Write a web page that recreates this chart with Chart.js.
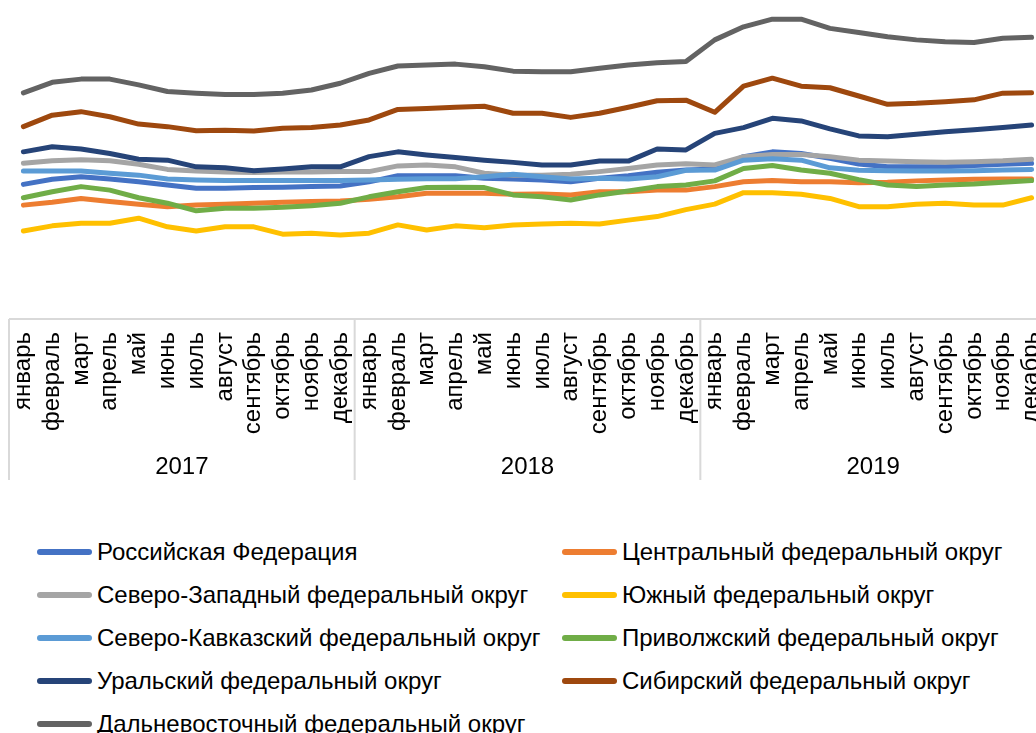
<!DOCTYPE html>
<html lang="ru">
<head>
<meta charset="utf-8">
<title>Федеральные округа 2017–2019</title>
<script src="https://cdn.jsdelivr.net/npm/chart.js@4/dist/chart.umd.min.js"></script>
<style>
  html, body { margin: 0; padding: 0; background: #fff; overflow: hidden; }
  body { width: 1036px; height: 733px; position: relative; }
  #chart { position: absolute; left: 0; top: 0; }
  #legend {
    position: absolute; left: 37px; top: 530px;
    display: grid; grid-template-columns: 525px auto; grid-auto-rows: 43px;
    font: 24px "Liberation Sans", Arial, sans-serif; color: #000;
  }
  #legend .item { display: flex; align-items: center; white-space: nowrap; }
  #legend .swatch { width: 55px; height: 6px; border-radius: 3px; margin-right: 5px; }
</style>
</head>
<body>
<canvas id="chart" width="1046" height="482"></canvas>
<div id="legend"></div>
<script>
const $ = (s) => document.querySelector(s);
const FONT = '"Liberation Sans", Arial, sans-serif';

// categories
const months = ["январь", "февраль", "март", "апрель", "май", "июнь", "июль", "август", "сентябрь", "октябрь", "ноябрь", "декабрь"];
const years = ["2017", "2018", "2019"];

// series (36 months each)
const rf = [42.2, 43.8, 44.6, 43.9, 43.0, 42.0, 41.0, 41.0, 41.2, 41.3, 41.5, 41.7, 43.0, 44.9, 44.9, 44.9, 44.1, 43.9, 43.6, 43.0, 44.1, 44.9, 46.0, 46.7, 47.0, 50.9, 52.4, 51.9, 50.4, 48.6, 47.7, 47.7, 47.7, 48.1, 48.5, 48.8];
const central = [35.7, 36.6, 37.8, 36.8, 36.0, 35.2, 35.7, 36.0, 36.3, 36.6, 36.8, 37.0, 37.5, 38.3, 39.4, 39.4, 39.4, 39.1, 39.2, 38.9, 39.9, 39.9, 40.4, 40.4, 41.5, 43.0, 43.4, 43.0, 43.0, 42.7, 42.9, 43.3, 43.6, 43.8, 43.9, 43.9];
const northWest = [48.8, 49.6, 49.9, 49.6, 48.5, 46.9, 46.4, 46.1, 45.9, 46.1, 46.1, 46.2, 46.2, 48.0, 48.3, 47.7, 45.7, 45.1, 45.1, 45.4, 46.2, 47.2, 48.3, 48.7, 48.3, 50.9, 51.6, 51.6, 50.9, 49.8, 49.5, 49.3, 49.1, 49.3, 49.6, 50.1];
const south = [27.6, 29.2, 30.0, 30.0, 31.6, 28.9, 27.6, 28.9, 28.9, 26.6, 26.9, 26.3, 26.9, 29.5, 27.9, 29.2, 28.6, 29.5, 29.8, 30.0, 29.8, 31.0, 32.1, 34.3, 36.0, 39.6, 39.6, 39.1, 37.8, 35.2, 35.2, 36.0, 36.3, 35.7, 35.7, 38.0];
const northCaucasus = [46.4, 46.4, 46.4, 45.7, 45.1, 43.9, 43.6, 43.4, 43.4, 43.4, 43.4, 43.4, 43.6, 43.8, 44.0, 44.0, 44.6, 45.4, 44.6, 43.9, 44.1, 43.9, 44.6, 46.6, 46.7, 49.8, 50.2, 49.8, 47.4, 46.6, 46.5, 46.4, 46.4, 46.5, 46.7, 46.9];
const volga = [38.0, 39.9, 41.5, 40.4, 38.0, 36.3, 33.9, 34.7, 34.7, 35.0, 35.5, 36.3, 38.3, 39.9, 41.2, 41.3, 41.2, 38.9, 38.3, 37.3, 38.9, 40.1, 41.5, 42.0, 43.3, 47.2, 48.1, 46.7, 45.7, 43.7, 42.0, 41.5, 42.0, 42.3, 42.9, 43.4];
const ural = [52.4, 54.0, 53.3, 51.9, 50.1, 49.8, 47.7, 47.4, 46.5, 47.0, 47.7, 47.7, 50.9, 52.4, 51.4, 50.6, 49.8, 49.1, 48.3, 48.3, 49.5, 49.5, 53.3, 53.0, 58.2, 60.0, 62.9, 62.1, 59.6, 57.4, 57.1, 57.9, 58.7, 59.3, 60.0, 60.8];
const siberia = [60.3, 63.9, 65.0, 63.4, 61.1, 60.3, 59.0, 59.2, 58.9, 59.8, 60.0, 60.8, 62.4, 65.7, 66.0, 66.4, 66.7, 64.5, 64.5, 63.2, 64.5, 66.4, 68.4, 68.6, 64.8, 73.0, 75.5, 73.0, 72.5, 69.9, 67.3, 67.6, 68.1, 68.7, 70.8, 70.9];
const farEast = [70.9, 74.2, 75.2, 75.2, 73.4, 71.3, 70.8, 70.4, 70.4, 70.8, 71.8, 73.9, 77.0, 79.3, 79.6, 79.9, 79.1, 77.7, 77.5, 77.5, 78.6, 79.6, 80.3, 80.7, 87.5, 91.6, 94.0, 94.0, 91.1, 89.8, 88.5, 87.5, 86.9, 86.7, 88.0, 88.3];

const seriesNames = [
  "Российская Федерация", "Центральный федеральный округ",
  "Северо-Западный федеральный округ", "Южный федеральный округ",
  "Северо-Кавказский федеральный округ", "Приволжский федеральный округ",
  "Уральский федеральный округ", "Сибирский федеральный округ",
  "Дальневосточный федеральный округ",
];
const seriesData = [rf, central, northWest, south, northCaucasus, volga, ural, siberia, farEast];
const seriesColors = ["#4472c4", "#ed7d31", "#a5a5a5", "#ffc000", "#5b9bd5", "#70ad47", "#264478", "#9e480e", "#636363"];

const labels = years.flatMap(() => months);

// year group box: separators between the years, drawn from the scales
const yearBoxes = {
  id: "yearBoxes",
  afterDraw(chart) {
    const { ctx } = chart;
    const x = chart.scales.x, x2 = chart.scales.x2;
    const step = x.getPixelForValue(1) - x.getPixelForValue(0);
    ctx.save();
    ctx.strokeStyle = "#d9d9d9";
    ctx.lineWidth = 2;
    ctx.beginPath();
    ctx.moveTo(x.left, x.top);
    ctx.lineTo(x.right, x.top);
    for (let k = 0; k < years.length; k++) {
      const px = x.getPixelForValue(k * months.length) - step / 2;
      ctx.moveTo(px, x.top);
      ctx.lineTo(px, x2.bottom);
    }
    ctx.stroke();
    ctx.restore();
  },
};

const chart = new Chart($("#chart"), {
  type: "line",
  data: {
    labels,
    datasets: seriesData.map((d, i) => ({
      label: seriesNames[i],
      data: d,
      borderColor: seriesColors[i],
      backgroundColor: seriesColors[i],
      borderWidth: 5,
      pointRadius: 0,
      tension: 0,
      borderCapStyle: "round",
      borderJoinStyle: "round",
      order: seriesData.length - i, // later series on top, like the original
    })),
  },
  options: {
    responsive: false,
    animation: false,
    devicePixelRatio: 1,
    layout: { padding: { left: 9, right: 0, top: 0, bottom: 2 } },
    plugins: { legend: { display: false }, tooltip: { enabled: false } },
    scales: {
      y: { display: false, min: 0, max: 100 },
      x: {
        type: "category",
        offset: true,
        grid: { display: false, drawTicks: false },
        border: { display: false },
        ticks: {
          autoSkip: false, minRotation: 90, maxRotation: 90, padding: 13,
          color: "#000", font: { family: FONT, size: 24 },
        },
        afterFit: (s) => { s.height = 130; s.paddingLeft = 0; s.paddingRight = 0; },
      },
      x2: {
        type: "category",
        position: "bottom",
        labels: years,
        offset: true,
        grid: { display: false, drawTicks: false },
        border: { display: false },
        ticks: { padding: 4, color: "#000", font: { family: FONT, size: 24 } },
        afterFit: (s) => { s.height = 31; s.paddingLeft = 0; s.paddingRight = 0; },
      },
    },
  },
  plugins: [yearBoxes],
});

// two-column legend under the chart
$("#legend").innerHTML = chart.data.datasets
  .map((ds) => `<div class="item"><span class="swatch" style="background:${ds.borderColor}"></span>${ds.label}</div>`)
  .join("");
</script>
</body>
</html>
